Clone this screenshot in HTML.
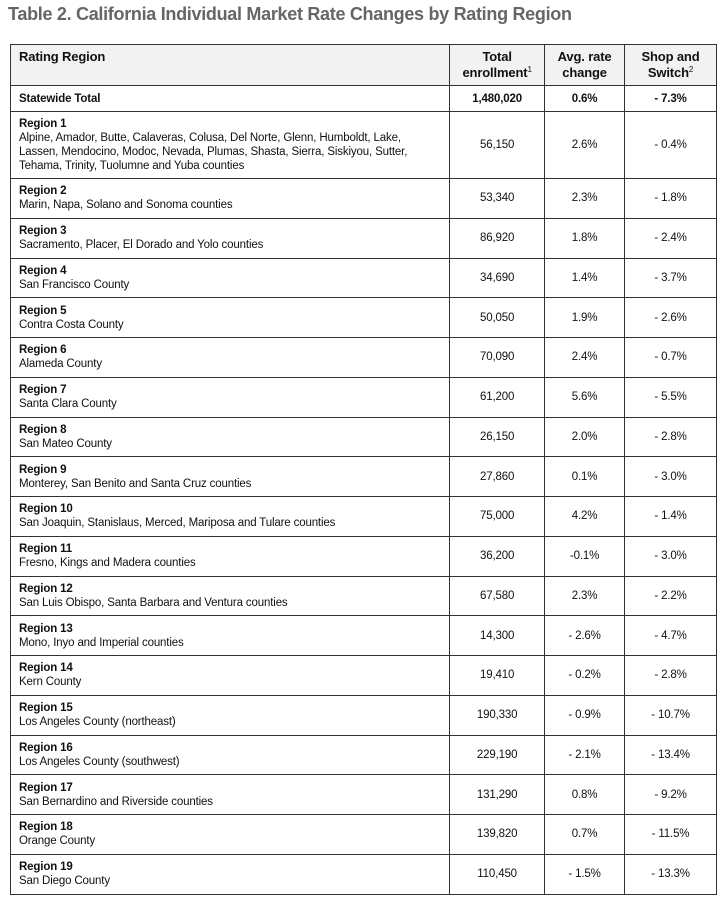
<!DOCTYPE html>
<html><head><meta charset="utf-8">
<style>
body{margin:0;width:720px;height:903px;background:#fff;font-family:"Liberation Sans",Arial,sans-serif;color:#111;overflow:hidden}
h1{position:absolute;left:8px;top:4px;margin:0;font-size:18px;font-weight:bold;color:#666;letter-spacing:-0.3px;white-space:nowrap}
table{position:absolute;left:10px;top:44px;border-collapse:collapse;width:707px;font-size:11.5px;letter-spacing:-0.15px}
td{border:1px solid #333;padding:0 8px;vertical-align:middle;line-height:14px}
td.n{text-align:center}
tr.r td{height:38.75px}
tr.h td{background:#f2f2f2;font-weight:bold;font-size:13px;height:36px;line-height:16px;vertical-align:top;padding-top:4px}
tr.s td{font-weight:bold;height:25px}
b{font-weight:bold}
sup{font-size:8px;font-weight:normal;line-height:0;vertical-align:0;position:relative;top:-5px}
</style></head><body>
<h1>Table 2. California Individual Market Rate Changes by Rating Region</h1>
<table>
<colgroup><col style="width:440px"><col style="width:95px"><col style="width:80px"><col style="width:92px"></colgroup>
<tr class="h"><td>Rating Region</td><td class="n">Total enrollment<sup>1</sup></td><td class="n">Avg. rate change</td><td class="n">Shop and Switch<sup>2</sup></td></tr>
<tr class="s"><td>Statewide Total</td><td class="n">1,480,020</td><td class="n">0.6%</td><td class="n">- 7.3%</td></tr>
<tr><td style="height:66px"><b>Region 1</b><br>Alpine, Amador, Butte, Calaveras, Colusa, Del Norte, Glenn, Humboldt, Lake,<br>Lassen, Mendocino, Modoc, Nevada, Plumas, Shasta, Sierra, Siskiyou, Sutter,<br>Tehama, Trinity, Tuolumne and Yuba counties</td><td class="n">56,150</td><td class="n">2.6%</td><td class="n">- 0.4%</td></tr>
<tr class="r"><td><b>Region 2</b><br>Marin, Napa, Solano and Sonoma counties</td><td class="n">53,340</td><td class="n">2.3%</td><td class="n">- 1.8%</td></tr>
<tr class="r"><td><b>Region 3</b><br>Sacramento, Placer, El Dorado and Yolo counties</td><td class="n">86,920</td><td class="n">1.8%</td><td class="n">- 2.4%</td></tr>
<tr class="r"><td><b>Region 4</b><br>San Francisco County</td><td class="n">34,690</td><td class="n">1.4%</td><td class="n">- 3.7%</td></tr>
<tr class="r"><td><b>Region 5</b><br>Contra Costa County</td><td class="n">50,050</td><td class="n">1.9%</td><td class="n">- 2.6%</td></tr>
<tr class="r"><td><b>Region 6</b><br>Alameda County</td><td class="n">70,090</td><td class="n">2.4%</td><td class="n">- 0.7%</td></tr>
<tr class="r"><td><b>Region 7</b><br>Santa Clara County</td><td class="n">61,200</td><td class="n">5.6%</td><td class="n">- 5.5%</td></tr>
<tr class="r"><td><b>Region 8</b><br>San Mateo County</td><td class="n">26,150</td><td class="n">2.0%</td><td class="n">- 2.8%</td></tr>
<tr class="r"><td><b>Region 9</b><br>Monterey, San Benito and Santa Cruz counties</td><td class="n">27,860</td><td class="n">0.1%</td><td class="n">- 3.0%</td></tr>
<tr class="r"><td><b>Region 10</b><br>San Joaquin, Stanislaus, Merced, Mariposa and Tulare counties</td><td class="n">75,000</td><td class="n">4.2%</td><td class="n">- 1.4%</td></tr>
<tr class="r"><td><b>Region 11</b><br>Fresno, Kings and Madera counties</td><td class="n">36,200</td><td class="n">-0.1%</td><td class="n">- 3.0%</td></tr>
<tr class="r"><td><b>Region 12</b><br>San Luis Obispo, Santa Barbara and Ventura counties</td><td class="n">67,580</td><td class="n">2.3%</td><td class="n">- 2.2%</td></tr>
<tr class="r"><td><b>Region 13</b><br>Mono, Inyo and Imperial counties</td><td class="n">14,300</td><td class="n">- 2.6%</td><td class="n">- 4.7%</td></tr>
<tr class="r"><td><b>Region 14</b><br>Kern County</td><td class="n">19,410</td><td class="n">- 0.2%</td><td class="n">- 2.8%</td></tr>
<tr class="r"><td><b>Region 15</b><br>Los Angeles County (northeast)</td><td class="n">190,330</td><td class="n">- 0.9%</td><td class="n">- 10.7%</td></tr>
<tr class="r"><td><b>Region 16</b><br>Los Angeles County (southwest)</td><td class="n">229,190</td><td class="n">- 2.1%</td><td class="n">- 13.4%</td></tr>
<tr class="r"><td><b>Region 17</b><br>San Bernardino and Riverside counties</td><td class="n">131,290</td><td class="n">0.8%</td><td class="n">- 9.2%</td></tr>
<tr class="r"><td><b>Region 18</b><br>Orange County</td><td class="n">139,820</td><td class="n">0.7%</td><td class="n">- 11.5%</td></tr>
<tr class="r"><td><b>Region 19</b><br>San Diego County</td><td class="n">110,450</td><td class="n">- 1.5%</td><td class="n">- 13.3%</td></tr>
</table>
</body></html>
